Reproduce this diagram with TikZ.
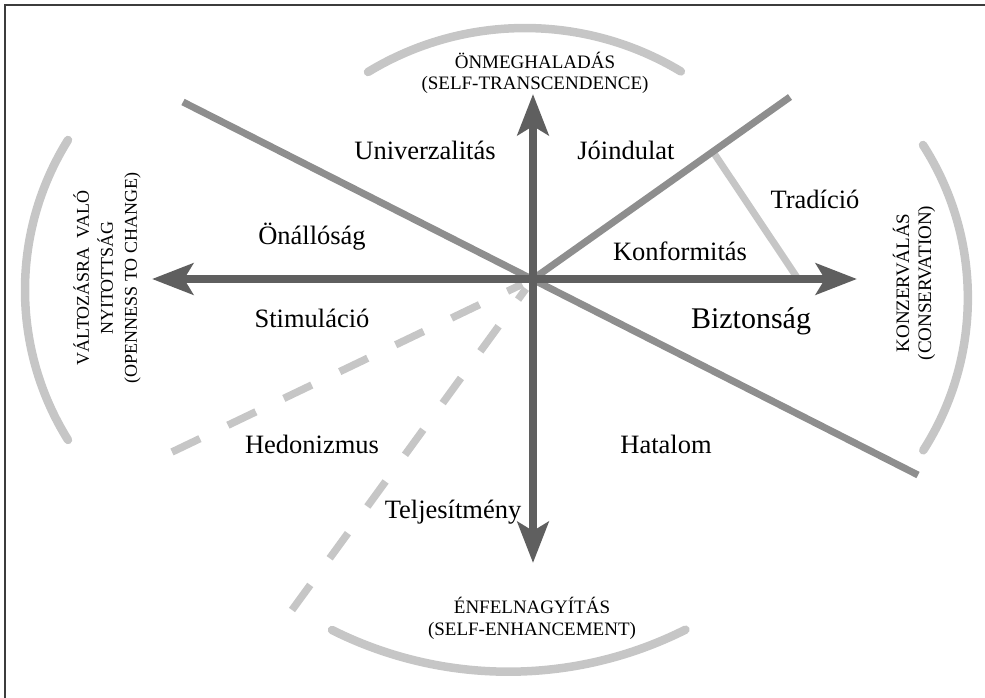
\documentclass[tikz,border=0pt]{standalone}
\usepackage{fontspec}
\setmainfont{Liberation Serif}
\definecolor{axisgray}{HTML}{5F5F5F}
\definecolor{raygray}{HTML}{8E8E8E}
\definecolor{palegray}{HTML}{C6C6C6}
\definecolor{framegray}{HTML}{3C3C3C}
\usetikzlibrary{arrows.meta,calc}

\begin{document}
\begin{tikzpicture}[x=1pt, y=1pt,
  axisarr/.style={draw=axisgray, line width=8pt,
    {Stealth[length=41pt,width=31pt,inset=9pt]}-{Stealth[length=41pt,width=31pt,inset=9pt]}},
  ray/.style={draw=raygray, line width=7pt},
  paleray/.style={draw=palegray, line width=7pt},
  dashray/.style={draw=palegray, line width=7.5pt, dash pattern=on 31pt off 31pt},
  rim/.style={draw=palegray, line width=8.5pt, line cap=round},
  value/.style={font=\fontsize{26.5}{30}\selectfont, inner sep=0pt, anchor=base},
  pole/.style={font=\fontsize{19}{21}\selectfont, align=center, inner sep=0pt}
]
  \useasboundingbox (0,0) rectangle (985,-698);
  \draw[framegray, line width=1.5pt] (5,-698) -- (5,-5) -- (985,-5);

  \coordinate (ctr) at (533,-279);
  \coordinate (tipW) at (152,-279);
  \coordinate (tipE) at (857,-279);
  \coordinate (tipN) at (533,-94);
  \coordinate (tipS) at (533,-563);
  \coordinate (ulend) at (183,-102);
  \coordinate (lrend) at (918,-475);
  \coordinate (urend) at (790,-97);
  \coordinate (tradtop) at ($(ctr)!0.70!(urend)$);
  \coordinate (tradbot) at (798,-279);
  \coordinate (hedend) at (172,-452);
  \coordinate (teljend) at (292,-610);

  \draw[rim] (368,-72) arc[start angle=121.3, end angle=58.9, radius=302pt];
  \draw[rim] (68,-140) arc[start angle=148, end angle=212, radius=283pt];
  \draw[rim] (923,-145) arc[start angle=32.7, end angle=-32.6, radius=283pt];
  \draw[rim] (332,-630) arc[start angle=243.4, end angle=296.7, radius=394pt];

  \draw[paleray] (tradtop) -- (tradbot);
  \draw[dashray] (hedend) -- ($(ctr)!12pt!(hedend)$);
  \draw[dashray, dash pattern=on 31pt off 33pt] (teljend) -- ($(ctr)!12pt!(teljend)$);
  \draw[ray] (ulend) -- (lrend);
  \draw[ray] (ctr) -- (urend);
  \draw[axisarr] (tipW) -- (tipE);
  \draw[axisarr] (tipS) -- (tipN);

  \node[value] (univ) at (425,-160) {Univerzalitás};
  \node[value] (joind) at (626,-159) {Jóindulat};
  \node[value] (trad) at (815,-208) {Tradíció};
  \node[value] (konf) at (680,-260) {Konformitás};
  \node[value] (onall) at (312,-244) {Önállóság};
  \node[value] (stim) at (312,-327) {Stimuláció};
  \node[value, font=\fontsize{30}{34}\selectfont] (bizt) at (751,-328) {Biztonság};
  \node[value] (hedo) at (312,-453) {Hedonizmus};
  \node[value] (hata) at (666,-453) {Hatalom};
  \node[value] (telj) at (453,-518) {Teljesítmény};

  \node[pole] (selftr) at (535,-73) {ÖNMEGHALADÁS\\(SELF-TRANSCENDENCE)};
  \node[pole, rotate=90, font=\fontsize{18}{24}\selectfont] (opench) at (107,-278)
    {VÁLTOZÁSRA\ \ VALÓ\\NYITOTTSÁG\\(OPENNESS TO CHANGE)};
  \node[pole, rotate=90, font=\fontsize{19}{22}\selectfont] (conserv) at (914,-283)
    {KONZERVÁLÁS\\(CONSERVATION)};
  \node[pole, font=\fontsize{19}{22}\selectfont] (selfenh) at (532,-618)
    {ÉNFELNAGYÍTÁS\\(SELF-ENHANCEMENT)};
\end{tikzpicture}
\end{document}
